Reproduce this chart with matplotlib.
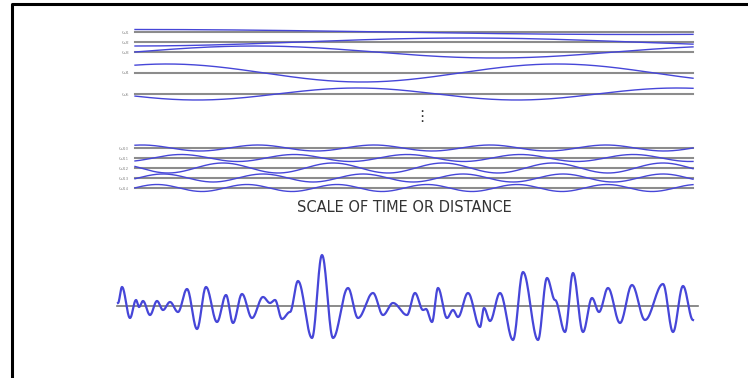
import matplotlib.pyplot as plt
import numpy as np

# long-period constituents (top group): amplitude, period, up-crossing (pixel units)
top_labels = ["ω₁", "ω₂", "ω₃", "ω₄", "ω₅"]
top_amp = [2.5, 4, 6, 9, 6]
top_period = [1008, 666, 480, 390, 320]
top_cross = [-117, 300, 135, 69.5, 277]

# short-period constituents (middle group)
mid_labels = ["ω₁₀", "ω₁₁", "ω₁₂", "ω₁₃", "ω₁₄"]
mid_amp = [3, 3.5, 5, 4, 3.5]
mid_period = [116, 113, 110, 100, 90]
mid_cross = [461, 492, 415.5, 138, 134.5]

# resulting wave: turning points (x, height above baseline)
wave_x = [118, 122, 130, 136, 139, 143, 150, 157, 163, 170, 178, 187, 197, 206,
          217, 226, 233, 242, 252, 263, 270, 275, 282, 290, 298, 312, 322, 333,
          348, 358, 373, 383, 393, 407, 415, 423, 426, 432, 438, 447, 453, 458,
          468, 480, 484, 490, 500, 513, 523, 538, 547, 555, 565, 573, 583, 592,
          599, 608, 620, 632, 645, 663, 673, 683, 693]
wave_h = [3, 19, -12, 6, -1, 5, -9, 5, -4, 4, -6, 17, -23, 19,
          -16, 11, -17, 12, -12, 9, 3, 6, -13, -6, 25, -32, 51, -32,
          18, -12, 13, -9, 3, -9, 13, -4, -3, -16, 18, -12, -4, -11,
          13, -21, -2, -15, 13, -34, 34, -34, 28, 6, -26, 33, -26, 8,
          -6, 18, -17, 21, -14, 22, -26, 20, -14]

# layout (pixels)
top_rows = [32, 42, 52, 73, 94]
mid_rows = [148, 158, 168, 178, 188]
x0, x1 = 135, 693
wave_base = 306

blue = "#4646d8"
grey = "#8c8c8c"

fig = plt.figure(figsize=(7.48, 3.78), dpi=100)
ax = fig.add_axes([0, 0, 1, 1])
ax.set_xlim(0, 748)
ax.set_ylim(378, 0)
ax.axis("off")

# frame (top and left edges only)
ax.plot([12, 12, 748], [378, 4, 4], color="black", lw=2.2, solid_capstyle="butt")

x = np.linspace(x0, x1, 800)


def draw_group(rows, labels, amp, period, cross):
    for row, lab, a, t, c in zip(rows, labels, amp, period, cross):
        ax.plot([x0, x1], [row, row], color=grey, lw=1.5)
        ax.plot(x, row - a * np.sin(2 * np.pi * (x - c) / t), color=blue, lw=1.0)
        ax.text(x0 - 6, row, lab, fontsize=4.5, color="#999999",
                ha="right", va="center")


draw_group(top_rows, top_labels, top_amp, top_period, top_cross)
draw_group(mid_rows, mid_labels, mid_amp, mid_period, mid_cross)

ax.text(422, 117, "⋮", fontsize=11, color="#333333", ha="center", va="center")
ax.text(404, 207, "SCALE OF TIME OR DISTANCE", fontsize=10.5, color="#333333",
        ha="center", va="center")

# resulting wave, half-cosine segments between turning points
px, py = [], []
for i in range(len(wave_x) - 1):
    s = np.linspace(0, 1, 20)
    w = (1 - np.cos(np.pi * s)) / 2
    px.extend(wave_x[i] + (wave_x[i + 1] - wave_x[i]) * s)
    py.extend(wave_h[i] + (wave_h[i + 1] - wave_h[i]) * w)
px = np.array(px)
py = wave_base - np.array(py)

ax.plot([117, 698], [wave_base, wave_base], color="#777777", lw=1.2)
ax.plot(px, py, color=blue, lw=1.6)

fig.savefig("out.png", dpi=100)
